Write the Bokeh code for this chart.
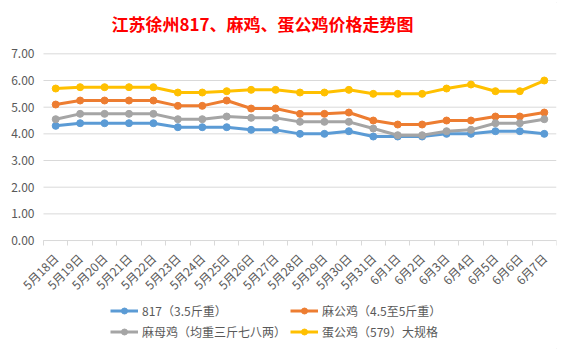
import math
from bokeh.plotting import figure
from bokeh.models import (Range1d, FixedTicker, NumeralTickFormatter, Legend, LegendItem,
                          ColumnDataSource, Label)
from bokeh.embed import file_html
from bokeh.resources import INLINE

dates = ["5月18日", "5月19日", "5月20日", "5月21日", "5月22日", "5月23日", "5月24日",
         "5月25日", "5月26日", "5月27日", "5月28日", "5月29日", "5月30日", "5月31日",
         "6月1日", "6月2日", "6月3日", "6月4日", "6月5日", "6月6日", "6月7日"]
s817 = [4.3, 4.4, 4.4, 4.4, 4.4, 4.25, 4.25, 4.25, 4.15, 4.15, 4.0, 4.0, 4.1, 3.9,
        3.9, 3.9, 4.0, 4.0, 4.1, 4.1, 4.0]
ma_gong = [5.1, 5.25, 5.25, 5.25, 5.25, 5.05, 5.05, 5.25, 4.95, 4.95, 4.75, 4.75, 4.8,
           4.5, 4.35, 4.35, 4.5, 4.5, 4.65, 4.65, 4.8]
ma_mu = [4.55, 4.75, 4.75, 4.75, 4.75, 4.55, 4.55, 4.65, 4.6, 4.6, 4.45, 4.45, 4.45,
         4.2, 3.95, 3.95, 4.1, 4.15, 4.4, 4.4, 4.55]
dan_gong = [5.7, 5.75, 5.75, 5.75, 5.75, 5.55, 5.55, 5.6, 5.65, 5.65, 5.55, 5.55, 5.65,
            5.5, 5.5, 5.5, 5.7, 5.85, 5.6, 5.6, 6.0]
series_names = ["817（3.5斤重）", "麻公鸡（4.5至5斤重）", "麻母鸡（均重三斤七八两）", "蛋公鸡（579）大规格"]
series_values = [s817, ma_gong, ma_mu, dan_gong]
colors = ["#5B9BD5", "#ED7D31", "#A5A5A5", "#FFC000"]
y_ticks = [0, 1, 2, 3, 4, 5, 6, 7]
title_text = "江苏徐州817、麻鸡、蛋公鸡价格走势图"

FONT = "Noto Sans CJK SC"
n = len(dates)
xs = list(range(n))
x_lo, x_hi = -0.5, n - 0.5

# The frame spans the whole canvas so that the title, legend and axis labels live
# inside it; both axes are pinned at the plot-area edges with fixed_location.
p = figure(width=572, height=351, title=None,
           x_range=Range1d(-2.26, x_hi),
           y_range=Range1d(-4.16, 9.0), output_backend="svg", toolbar_location=None,
           min_border_left=0, min_border_right=16, min_border_top=0,
           min_border_bottom=0, outline_line_color=None,
           background_fill_color="white", border_fill_color="white")

# horizontal gridlines across the plot area only
p.segment(x0=x_lo, x1=x_hi, y0=y_ticks, y1=y_ticks, line_color="#D9D9D9", line_width=1)
p.xgrid.grid_line_color = None
p.ygrid.grid_line_color = None

# y axis
p.yaxis.fixed_location = x_lo
p.yaxis.bounds = (min(y_ticks), max(y_ticks))
p.yaxis.ticker = FixedTicker(ticks=y_ticks)
p.yaxis.formatter = NumeralTickFormatter(format="0.00")
p.yaxis.axis_line_color = None
p.yaxis.major_tick_line_color = None
p.yaxis.minor_tick_line_color = None
p.yaxis.major_tick_out = 0
p.yaxis.major_label_standoff = 9
p.yaxis.major_label_text_font = FONT
p.yaxis.major_label_text_font_size = "12px"
p.yaxis.major_label_text_color = "#595959"

# x axis
p.xaxis.fixed_location = 0
p.xaxis.bounds = (x_lo, x_hi)
p.xaxis.ticker = FixedTicker(ticks=xs, minor_ticks=[i - 0.5 for i in range(n + 1)])
p.xaxis.major_label_overrides = {i: d for i, d in enumerate(dates)}
p.xaxis.major_tick_line_color = None
p.xaxis.major_tick_out = 0
p.xaxis.major_tick_in = 0
p.xaxis.minor_tick_out = 5
p.xaxis.minor_tick_in = 0
p.xaxis.minor_tick_line_color = "#D9D9D9"
p.xaxis.axis_line_color = "#D9D9D9"
p.xaxis.major_label_orientation = math.pi / 4
p.xaxis.major_label_standoff = 10
p.xaxis.major_label_text_font = FONT
p.xaxis.major_label_text_font_size = "12px"
p.xaxis.major_label_text_color = "#595959"

items = []
for name, vals, c in zip(series_names, series_values, colors):
    src = ColumnDataSource(dict(x=xs, y=vals))
    ln = p.line("x", "y", source=src, line_color=c, line_width=3)
    sc = p.scatter("x", "y", source=src, size=7, fill_color=c, line_color=c)
    items.append(LegendItem(label=name, renderers=[ln, sc]))

title = Label(x=111, y=328, x_units="screen", y_units="screen", text=title_text,
              text_font=FONT, text_font_size="17px", text_font_style="bold",
              text_color="#FF0000", text_align="left", text_baseline="middle")
p.add_layout(title)

# legend fills column by column: order so rows read 817 / 麻公鸡, 麻母鸡 / 蛋公鸡
legend = Legend(items=[items[0], items[2], items[1], items[3]], ncols=2,
                location=(110, 11))
legend.border_line_color = None
legend.background_fill_alpha = 0
legend.label_text_font = FONT
legend.label_text_font_size = "12px"
legend.label_text_color = "#595959"
legend.glyph_width = 28
legend.glyph_height = 15
legend.label_height = 15
legend.label_standoff = 4
legend.spacing = 4
legend.padding = 0
legend.margin = 0
p.add_layout(legend, "center")

p.styles = {"outline": "1px solid #D9D9D9", "outline-offset": "-3px"}

open("out.html", "w").write(file_html(p, INLINE))
